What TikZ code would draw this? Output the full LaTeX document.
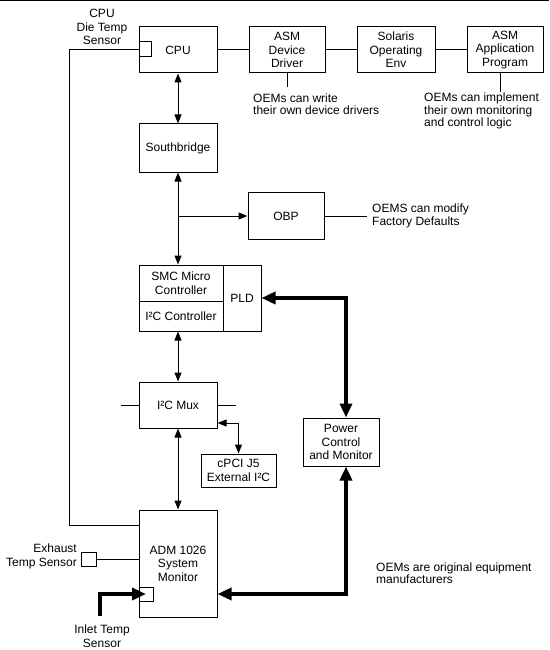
\documentclass[tikz,border=0pt]{standalone}
\usepackage{fontspec}
\setmainfont{Liberation Sans}
\usetikzlibrary{arrows.meta,calc}
\begin{document}
\begin{tikzpicture}[x=1pt,y=-1pt,
  every node/.style={font=\fontsize{12}{13.5}\selectfont, inner sep=0pt},
  box/.style={draw, line width=1pt, align=center},
  sq/.style={draw, line width=1pt},
  note/.style={font=\fontsize{12}{12.5}\selectfont, align=left, anchor=west},
  conn/.style={line width=1pt},
  tarr/.style={line width=1pt, {Triangle[length=9pt,width=7pt]}-{Triangle[length=9pt,width=7pt]}},
  tone/.style={line width=1pt, -{Triangle[length=9pt,width=7pt]}},
  thk/.style={line width=4pt, {Triangle[length=14pt,width=12pt]}-{Triangle[length=14pt,width=12pt]}},
  thkone/.style={line width=4pt, -{Triangle[length=14pt,width=12pt]}}
]
\useasboundingbox (0,0) rectangle (549,650);
\draw[line width=1.5pt] (0,0.75) -- (549,0.75);

% boxes
\node[box, minimum width=78pt, minimum height=46pt] (cpu) at (178,50) {CPU};
\node[box, minimum width=76pt, minimum height=46pt] (drv) at (287,50) {ASM\\Device\\Driver};
\node[box, minimum width=78pt, minimum height=46pt] (sol) at (396,50) {Solaris\\Operating\\Env};
\node[box, minimum width=76pt, minimum height=46pt] (app) at (505,50) {ASM\\Application\\Program};
\node[box, minimum width=78pt, minimum height=48pt] (sb) at (178,148) {Southbridge};
\node[box, minimum width=76pt, minimum height=47pt] (obp) at (286,216) {OBP};
\node[box, minimum width=84pt, minimum height=36pt] (smc) at (181,283) {SMC Micro\\Controller};
\node[box, minimum width=84pt, minimum height=30pt] (i2cc) at (181,316) {I²C Controller};
\node[box, minimum width=38pt, minimum height=66pt] (pld) at (242,298) {PLD};
\node[box, minimum width=78pt, minimum height=46pt] (mux) at (178,405) {I²C Mux};
\node[box, minimum width=75pt, minimum height=33pt] (cpci) at (238.5,470.5) {cPCI J5\\External I²C};
\node[box, minimum width=76pt, minimum height=48pt] (power) at (341,442) {Power\\Control\\and Monitor};
\node[box, minimum width=78pt, minimum height=107pt] (adm) at (178,563.5) {ADM 1026\\System\\Monitor};

% sensors
\node[sq, minimum width=12pt, minimum height=15pt] (cpusq) at (145,49.5) {};
\node[sq, minimum width=15pt, minimum height=14pt] (exsq) at (88.5,559) {};
\node[sq, minimum width=14pt, minimum height=14pt] (insq) at (146,594) {};

% texts
\node[align=center] (cputext) at (102,27) {CPU\\Die Temp\\Sensor};
\node[align=right, anchor=east] (extext) at (77,556.5) {Exhaust\\Temp Sensor};
\node[align=center] (intext) at (102,636) {Inlet Temp\\Sensor};
\node[note] (drvnote) at (253,104) {OEMs can write\\their own device drivers};
\node[note] (appnote) at (424,111) {OEMs can implement\\their own monitoring\\and control logic};
\node[note] (obpnote) at (372,216) {OEMS can modify\\Factory Defaults};
\node[note] (oemnote) at (376,573) {OEMs are original equipment\\manufacturers};

% thin connectors
\draw[conn] (cpu.east) -- (drv.west);
\draw[conn] (drv.east) -- (sol.west);
\draw[conn] (sol.east) -- (app.west);
\draw[conn] (drv.south) -- ++(0,14);
\draw[conn] ($(app.south)+(-5,0)$) -- ++(0,19);
\draw[tarr] (cpu.south) -- (sb.north);
\draw[tarr] (sb.south) -- (sb.south |- smc.north);
\draw[tone] (sb.south |- obp.west) -- (obp.west);
\draw[conn] (obp.east) -- ($(obpnote.west)+(-5,0)$);
\draw[tarr] (mux.north |- i2cc.south) -- (mux.north);
\draw[conn] (mux.west) -- ++(-18,0);
\draw[conn] (mux.east) -- ++(18,0);
\draw[tarr] ($(mux.east)+(0,18)$) -| (cpci.north);
\draw[tarr] (mux.south) -- (adm.north);
\draw[conn] (cpusq.west) -- ++(-69,0) |- ($(adm.west)+(0,-38.5)$);
\draw[conn] (exsq.east) -- (exsq.east -| adm.west);

% thick connectors
\draw[thk] (pld.east) -| ($(power.north)+(5,0)$);
\draw[thk] ($(power.south)+(5,0)$) |- ($(adm.east)+(0,30.5)$);
\draw[thkone] ($(insq.center)+(-46,22)$) |- (insq.center);
\end{tikzpicture}
\end{document}
